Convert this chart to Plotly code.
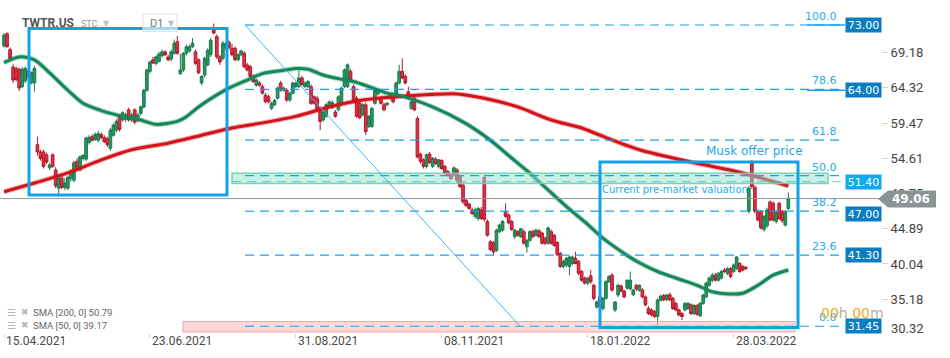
import plotly.graph_objects as go

# ---------------- data ----------------
open_ = [70.1,71.8,69.6,67.2,67.0,66.9,64.5,65.3,66.6,65.0,
         65.0,56.5,55.5,55.5,55.1,53.3,55.1,53.0,50.5,51.9,
         50.6,50.5,51.8,51.6,54.2,53.0,54.6,54.5,56.8,57.6,
         57.2,57.1,57.9,57.5,57.3,56.0,57.8,58.5,60.4,59.9,
         60.0,61.3,59.9,61.3,59.9,60.8,61.7,64.0,66.6,68.2,
         67.7,68.0,68.8,69.3,68.6,68.3,69.1,70.7,66.3,66.8,
         69.1,69.4,70.0,69.3,68.2,65.0,66.1,67.5,68.9,72.3,
         71.4,68.6,68.4,69.8,70.6,69.8,69.8,68.2,68.9,69.1,
         67.5,67.25,65.9,64.7,65.0,64.5,63.3,63.1,61.5,62.0,
         62.9,65.0,64.0,64.0,62.65,63.6,64.5,64.5,65.7,64.5,
         64.5,64.5,63.1,62.9,61.5,59.9,60.4,61.7,61.6,61.0,
         61.3,62.0,64.5,64.5,66.6,64.5,62.9,62.2,60.6,62.0,
         59.0,59.0,62.2,63.5,62.9,62.0,62.0,62.9,63.1,63.1,
         65.0,66.6,65.9,63.8,61.5,62.9,60.1,55.2,54.4,53.5,
         55.2,53.5,54.5,53.5,54.3,53.5,52.8,52.3,52.3,53.0,
         52.1,50.9,48.8,48.3,47.5,46.6,46.3,47.5,52.0,45.9,
         43.1,43.0,41.9,44.5,44.7,47.2,46.8,45.9,43.8,44.5,
         43.8,44.5,42.4,43.3,44.5,44.0,44.6,44.3,43.6,42.9,
         44.5,44.0,43.0,41.5,39.7,39.9,39.7,40.1,40.8,40.4,
         39.0,38.1,37.4,38.4,37.1,34.1,35.5,33.9,35.3,37.6,
         38.5,33.7,35.76,37.0,36.3,36.7,36.6,35.8,37.1,36.4,
         36.45,35.5,33.9,33.7,33.45,32.8,35.0,35.7,35.1,35.8,
         35.3,34.6,33.7,33.2,33.7,33.9,34.4,33.2,34.3,32.9,
         34.6,35.5,37.1,37.8,38.5,37.8,38.1,39.2,38.75,39.4,
         39.0,39.4,40.1,39.7,39.6,47.3,54.0,50.6,47.3,47.3,
         44.8,45.3,48.6,48.4,45.9,48.4,47.3,45.4,47.7]
high = [71.9,72.0,69.9,67.6,67.3,67.1,67.2,67.3,66.9,66.6,
        67.4,57.6,55.8,55.8,55.4,54.0,55.3,53.4,52.1,52.2,
        51.9,52.2,53.1,54.3,54.6,55.0,55.2,57.6,57.8,57.9,
        58.2,58.4,58.2,57.8,57.6,58.8,59.4,60.0,60.7,61.1,
        60.9,61.6,60.9,61.5,60.9,61.9,64.2,67.0,68.1,68.6,
        68.8,69.3,69.6,69.5,68.9,69.6,71.0,71.5,69.0,69.3,
        70.3,70.3,71.2,69.6,68.4,66.1,68.6,69.8,71.2,73.2,
        71.7,68.9,70.8,70.8,70.9,70.4,70.0,69.1,69.6,69.4,
        67.8,67.5,66.2,65.6,65.3,64.8,63.6,63.4,62.4,62.8,
        64.5,65.3,64.5,64.3,63.8,65.2,65.2,66.7,66.0,65.2,
        65.4,64.8,63.3,63.2,61.8,61.2,62.2,62.6,62.6,61.3,
        63.3,64.5,67.0,67.7,66.9,64.8,63.2,62.4,62.2,62.3,
        60.6,61.7,64.2,64.2,63.2,62.3,62.4,63.5,63.4,65.2,
        67.5,68.4,66.2,64.5,62.6,63.1,60.4,55.4,54.6,55.3,
        55.5,54.8,54.8,54.5,54.5,53.7,53.0,52.5,53.5,53.3,
        52.3,51.2,49.0,48.5,47.8,47.8,47.9,47.9,52.3,46.2,
        43.3,43.2,44.9,45.6,46.1,48.4,47.0,46.1,44.9,44.7,
        45.0,44.8,43.5,44.7,44.8,44.9,44.9,44.5,43.8,45.2,
        44.8,44.2,43.2,41.7,40.6,41.0,41.2,41.2,41.7,40.6,
        39.2,38.3,38.2,39.2,37.3,35.0,35.8,35.5,37.8,38.5,
        38.8,34.9,37.3,37.2,36.5,37.9,39.0,36.6,37.3,37.2,
        36.7,35.7,34.2,33.9,33.7,35.3,35.8,35.9,35.9,36.1,
        35.5,34.8,33.9,33.4,34.8,34.8,34.6,34.5,34.5,34.8,
        35.9,37.6,38.3,38.8,38.8,38.9,39.2,39.5,39.6,39.6,
        40.1,41.1,40.3,39.9,39.7,50.8,54.4,50.9,47.6,47.5,
        46.8,47.8,48.8,48.7,47.5,48.6,47.5,47.5,49.9]
low = [69.9,69.9,68.0,65.0,65.2,63.9,64.3,65.0,65.4,64.8,
       63.8,55.0,54.3,53.2,53.8,53.0,53.3,50.5,49.3,50.4,
       50.2,50.2,51.4,51.3,53.0,52.8,54.3,54.2,56.5,56.9,
       57.0,56.8,57.2,56.7,56.2,55.6,57.6,58.2,58.3,59.7,
       59.6,59.7,59.6,59.3,59.6,60.5,61.5,63.8,66.3,67.6,
       67.4,67.8,68.5,68.7,68.0,68.0,68.9,68.9,66.1,66.5,
       68.8,69.2,69.8,67.5,66.2,64.7,65.8,67.3,68.6,71.7,
       68.3,67.5,68.1,69.5,69.6,68.7,68.0,68.0,68.7,67.0,
       66.6,65.7,65.0,64.5,64.5,63.4,62.2,62.2,61.3,61.8,
       62.7,63.8,63.8,62.4,62.4,63.4,64.3,64.3,64.6,64.3,
       64.3,62.0,62.0,61.1,58.5,59.7,60.2,61.5,61.4,60.2,
       61.1,61.8,64.3,64.3,65.2,62.2,60.2,60.0,60.4,57.8,
       58.8,58.8,62.0,63.3,62.0,61.1,61.8,62.7,62.2,62.9,
       64.8,65.5,64.8,62.7,61.3,61.1,54.6,53.9,53.2,53.2,
       53.9,53.3,53.7,53.2,53.0,52.3,52.1,51.6,52.0,51.2,
       50.5,48.3,47.9,47.5,46.8,46.3,46.0,46.1,45.9,43.8,
       41.9,41.3,41.7,44.3,44.5,46.4,45.5,44.6,43.5,43.8,
       43.6,42.7,41.6,43.1,43.6,43.8,43.6,42.7,42.6,42.7,
       42.7,42.4,41.1,39.5,39.4,39.6,38.5,39.9,40.0,38.5,
       37.6,37.2,37.1,37.3,35.0,33.9,33.9,33.6,35.1,37.4,
       36.2,33.4,35.5,36.1,35.3,36.5,36.4,35.6,36.3,36.2,
       35.3,34.2,33.0,32.8,32.6,31.6,34.9,34.9,34.9,34.9,
       33.7,33.5,32.8,32.3,33.5,33.7,33.0,33.0,32.9,32.7,
       34.4,35.3,36.9,37.5,37.6,37.6,37.9,38.8,38.5,38.1,
       38.8,39.2,38.8,39.0,39.2,47.0,50.4,47.0,45.9,44.8,
       44.5,45.0,45.9,45.9,45.6,46.1,45.7,45.2,47.5]
close = [71.6,70.0,68.4,65.4,65.5,64.3,66.9,67.0,65.8,66.4,
         67.0,55.5,54.6,53.5,54.1,53.7,53.5,50.8,51.9,50.6,
         51.2,52.0,52.8,54.0,53.4,54.8,55.0,57.4,57.5,57.1,
         57.9,58.0,57.5,56.9,56.5,58.5,59.2,59.7,58.6,60.9,
         60.6,59.9,60.6,59.6,60.6,61.7,64.0,66.8,67.9,67.75,
         68.6,69.0,69.3,68.9,68.2,69.3,70.5,69.1,66.8,69.1,
         70.0,70.0,70.5,67.7,66.4,65.9,68.4,69.5,70.9,71.9,
         68.6,67.9,70.5,70.4,69.9,68.9,68.2,68.9,69.4,67.25,
         66.8,65.9,65.2,65.4,64.7,63.6,62.4,62.4,62.2,62.6,
         64.3,64.0,64.3,62.65,63.6,65.0,65.0,65.7,64.8,65.0,
         65.2,62.2,62.2,61.3,59.7,61.0,62.0,62.4,62.3,60.4,
         63.1,64.3,66.8,67.5,65.4,62.4,60.4,60.2,62.0,58.3,
         60.4,61.5,64.0,64.0,62.2,61.3,62.2,63.3,62.4,65.0,
         66.6,65.7,65.0,62.9,62.4,61.3,54.8,54.2,53.5,55.1,
         54.0,54.6,53.9,54.4,53.2,52.5,52.3,51.8,53.3,51.6,
         50.7,48.6,48.1,47.7,47.0,47.5,47.7,46.3,46.2,44.0,
         42.0,41.7,44.7,45.4,45.9,46.6,45.7,44.8,44.7,44.0,
         44.9,42.9,43.3,44.5,43.8,44.7,43.8,42.9,42.9,45.0,
         42.9,42.6,41.3,39.7,40.4,40.8,41.0,41.0,40.1,38.75,
         37.8,37.4,38.1,37.6,35.3,34.8,34.1,35.3,37.6,38.3,
         36.45,34.8,37.1,36.3,35.5,37.8,37.8,36.45,36.6,37.1,
         35.5,34.4,33.2,33.0,32.8,35.07,35.6,35.1,35.76,35.1,
         33.9,33.7,33.0,32.8,34.6,34.6,33.2,34.3,33.1,34.6,
         35.76,37.4,38.1,38.5,37.8,38.75,39.0,39.0,39.4,38.3,
         39.9,41.0,39.0,39.2,39.4,50.5,50.7,47.3,46.1,45.0,
         46.6,47.5,46.1,46.1,47.2,46.3,46.0,47.25,49.1]

sma200_idx = [0, 10, 21, 32, 42, 54, 65, 75, 85, 96, 107, 118, 129, 140, 149,
              158, 169, 180, 190, 196, 209, 226, 242, 258]
sma200_val = [50.0, 51.2, 52.6, 54.4, 55.8, 56.7, 57.8, 58.8, 59.5, 60.4, 61.7,
              62.65, 63.1, 63.4, 63.5, 62.9, 61.7, 59.9, 58.8, 57.8, 55.8, 54.1,
              52.7, 50.8]
sma50_idx = [0, 5, 10, 15, 21, 26, 32, 37, 45, 50, 57, 60, 64, 71, 74, 80, 85, 91,
             96, 100, 105, 110, 115, 120, 126, 130, 141, 152, 160, 166, 172, 177,
             182, 186, 192, 197, 204, 209, 215, 221, 228, 233, 239, 243, 248, 253, 258]
sma50_val = [67.8, 68.6, 68.2, 66.4, 64.0, 62.2, 61.2, 60.6, 59.9, 59.3, 59.7, 60.35,
             61.7, 63.6, 64.3, 65.4, 66.3, 66.7, 67.0, 66.9, 66.1, 65.6, 65.2, 64.5,
             63.6, 63.3, 61.7, 59.4, 57.1, 55.0, 52.9, 51.0, 49.1, 47.6, 45.5, 43.6,
             41.5, 40.2, 39.0, 38.1, 37.1, 36.2, 35.9, 36.0, 37.1, 38.5, 39.2]

date_tick_idx = [0, 48, 96, 144, 192, 240]
date_tick_text = ["15.04.2021", "23.06.2021", "31.08.2021", "08.11.2021",
                  "18.01.2022", "28.03.2022"]
price_ticks = [35.18, 40.04, 44.89, 49.75, 54.61, 59.47, 64.32, 69.18]
bottom_tick = 30.32
fib_levels = [73.00, 64.11, 57.13, 52.23, 47.32, 41.26, 31.45]
fib_names = ["100.0", "78.6", "61.8", "50.0", "38.2", "23.6", "0.0"]
level_boxes = [73.00, 64.00, 51.40, 47.00, 41.30, 31.45]
last_price = 49.06
sma200_last = 50.79
sma50_last = 39.17

# ---------------- geometry helpers (pixel -> data) ----------------
W, H = 950, 358
ML, MR, MT, MB = 0, 69, 0, 25
PW, PH = W - ML - MR, H - MT - MB
def xi(px):
    return (px - 4) / 3.04
def yv(py):
    return 73.0 - (py - 25) / 7.25
def xp(px):
    return px / PW
def yp(py):
    return (PH - py) / PH

idx = list(range(len(close)))

fig = go.Figure()
fig.add_trace(go.Candlestick(
    x=idx, open=open_, high=high, low=low, close=close,
    increasing=dict(line=dict(color="#1c7a4e", width=1), fillcolor="#26975f"),
    decreasing=dict(line=dict(color="#b5182c", width=1), fillcolor="#dd3246"),
    whiskerwidth=0, showlegend=False, hoverinfo="skip"))
fig.add_trace(go.Scatter(x=sma200_idx, y=sma200_val, mode="lines",
                         line=dict(color="rgba(215,20,25,0.35)", width=5, shape="spline", smoothing=0.8),
                         showlegend=False, hoverinfo="skip"))
fig.add_trace(go.Scatter(x=sma200_idx, y=sma200_val, mode="lines",
                         line=dict(color="#d3121a", width=3, shape="spline", smoothing=0.8),
                         showlegend=False, hoverinfo="skip"))
fig.add_trace(go.Scatter(x=sma50_idx, y=sma50_val, mode="lines",
                         line=dict(color="rgba(20,135,90,0.35)", width=5, shape="spline", smoothing=0.8),
                         showlegend=False, hoverinfo="skip"))
fig.add_trace(go.Scatter(x=sma50_idx, y=sma50_val, mode="lines",
                         line=dict(color="#15875a", width=3, shape="spline", smoothing=0.8),
                         showlegend=False, hoverinfo="skip"))

BLUE = "#10a3ea"
FIBC = "#16a2ec"
shapes = []
# zones
shapes.append(dict(type="rect", xref="x", yref="y", x0=xi(232), x1=xi(828), y0=51.15, y1=52.55,
                   fillcolor="rgba(150,225,200,0.5)", line=dict(color="rgba(105,210,172,0.9)", width=1.5),
                   layer="above"))
shapes.append(dict(type="rect", xref="x", yref="y", x0=xi(183), x1=xi(795), y0=yv(332), y1=yv(321.5),
                   fillcolor="rgba(250,185,185,0.55)", line=dict(color="rgba(240,160,160,0.9)", width=1),
                   layer="above"))
# fib dashed lines
for lv in fib_levels:
    shapes.append(dict(type="line", xref="x", yref="y", x0=xi(245), x1=xi(845), y0=lv, y1=lv,
                       line=dict(color=FIBC, width=1.2, dash="9px,6px"), layer="above"))
shapes.append(dict(type="line", xref="x", yref="y", x0=xi(232), x1=xi(845), y0=51.40, y1=51.40,
                   line=dict(color="rgba(70,180,220,0.6)", width=1.2, dash="9px,6px"), layer="above"))
for lv in level_boxes[:2]:
    shapes.append(dict(type="line", xref="x", yref="y", x0=xi(807), x1=xi(845), y0=lv, y1=lv,
                       line=dict(color=FIBC, width=1.5), layer="above"))
# current price line
shapes.append(dict(type="line", xref="x", yref="y", x0=xi(0), x1=xi(881), y0=last_price, y1=last_price,
                   line=dict(color="#8d989b", width=1), layer="above"))
# blue boxes
shapes.append(dict(type="rect", xref="x", yref="y", x0=xi(29), x1=xi(227), y0=yv(195), y1=yv(28.5),
                   line=dict(color=BLUE, width=3), layer="above"))
shapes.append(dict(type="rect", xref="x", yref="y", x0=xi(600), x1=xi(798), y0=yv(327.5), y1=yv(162),
                   line=dict(color=BLUE, width=3), layer="above"))
# fib diagonal
shapes.append(dict(type="line", xref="x", yref="y", x0=xi(245), y0=73.0, x1=xi(520), y1=31.45,
                   line=dict(color="#3db5f2", width=1), layer="above"))
# grey price tag
gp = "M {a},{m} L {b},{t} L {c},{t} L {c},{bt} L {b},{bt} Z".format(
    a=xp(878), b=xp(888), c=xp(936), t=yp(190.5), bt=yp(207.5), m=yp(199))
shapes.append(dict(type="path", xref="paper", yref="paper", path=gp,
                   fillcolor="#8a9396", line=dict(width=0), layer="above"))
# D1 box
shapes.append(dict(type="rect", xref="paper", yref="paper", x0=xp(143), x1=xp(177), y0=yp(31.5), y1=yp(14),
                   fillcolor="rgba(255,255,255,0.6)", line=dict(color="#e2e2e2", width=1), layer="above"))

ann = []
DJ = "DejaVu Sans"
def txt_ann(x, y, text, size, color, family="Roboto", xanchor="left", xref="paper", yref="paper"):
    return dict(x=x, y=y, xref=xref, yref=yref, text=text, showarrow=False, xanchor=xanchor,
                yanchor="middle", font=dict(family=family, size=size, color=color))

# level boxes
for lv in level_boxes:
    bg = "#10a8f0" if abs(lv - 51.40) < 1e-6 else "#0a7dc3"
    ann.append(dict(x=xi(863), y=lv, xref="x", yref="y", text="%.2f" % lv, showarrow=False,
                    xanchor="center", yanchor="middle", font=dict(family=DJ, size=11, color="white"),
                    bgcolor=bg, width=35, height=14, borderpad=0))
# fib names
for lv, nm in zip(fib_levels, fib_names):
    ann.append(dict(x=xi(839), y=lv, xref="x", yref="y", text=nm, showarrow=False, xanchor="right",
                    yanchor="bottom", yshift=0, font=dict(family=DJ, size=11, color="#2aaaf0")))
ann.append(txt_ann(xi(754), yv(151), "Musk offer price", 12, "#1ea6ec", DJ, "center", "x", "y"))
ann.append(txt_ann(xi(600), yv(189), "Current pre-market valuation", 10, "#2aaaf0", DJ, "left", "x", "y"))
ann.append(txt_ann(xp(911), yp(199), "<b>%.2f</b>" % last_price, 12, "white", DJ, "center"))
ann.append(txt_ann(xp(889), yp(328), "%.2f" % bottom_tick, 13, "#444", "Roboto", "left"))
ann.append(txt_ann(xi(852), yv(313),
                   '<span style="color:#f5a623">00</span><span style="color:#b0b0b0">h </span>'
                   '<span style="color:#f5a623">00</span><span style="color:#b0b0b0">m</span>',
                   14, "#b0b0b0", DJ, "center", "x", "y"))
for ti, tt in zip(date_tick_idx, date_tick_text):
    ann.append(txt_ann(ti, yp(341), tt, 12, "#4a4a4a", "Roboto", "left", "x", "paper"))
# header
ann.append(txt_ann(xp(20), yp(23), "<b>TWTR.US</b>", 12, "#555"))
ann.append(txt_ann(xp(79), yp(24), "STC", 9, "#9a9a9a"))
ann.append(txt_ann(xp(101), yp(23), "▼", 8, "#c0c0c0", DJ))
ann.append(txt_ann(xp(148), yp(23), "D1", 11, "#777"))
ann.append(txt_ann(xp(166), yp(23), "▼", 8, "#c0c0c0", DJ))
# indicator legend
for row, txt in ((312, "SMA [200, 0] %.2f" % sma200_last), (325, "SMA [50, 0] %.2f" % sma50_last)):
    ann.append(txt_ann(xp(5), yp(row), "☰", 10, "#b5b5b5", DJ))
    ann.append(txt_ann(xp(19), yp(row), "✖", 9, "#b5b5b5", DJ))
    ann.append(txt_ann(xp(31), yp(row), txt, 9.5, "#666"))

fig.update_layout(
    width=W, height=H, autosize=False,
    margin=dict(l=ML, r=MR, t=MT, b=MB),
    paper_bgcolor="white", plot_bgcolor="white",
    boxgap=0.12, boxgroupgap=0,
    hovermode=False, showlegend=False,
    shapes=shapes, annotations=ann,
    xaxis=dict(range=[xi(0), xi(PW)], showgrid=False, zeroline=False, showline=False,
               tickmode="array", tickvals=date_tick_idx, ticks="outside", ticklen=4,
               tickcolor="#d0d0d0", showticklabels=False, rangeslider=dict(visible=False),
               fixedrange=True),
    yaxis=dict(range=[yv(PH), yv(0)], side="right", showgrid=False, zeroline=False, showline=False,
               tickmode="array", tickvals=price_ticks, ticktext=["%.2f" % v for v in price_ticks],
               ticks="outside", ticklen=6, tickcolor="#d5d5d5",
               tickfont=dict(family="Roboto", size=13, color="#444"), fixedrange=True),
)
fig.write_html("out.html", config={"displayModeBar": False},
               post_script="document.body.style.margin='0';document.body.style.overflow='hidden';")
